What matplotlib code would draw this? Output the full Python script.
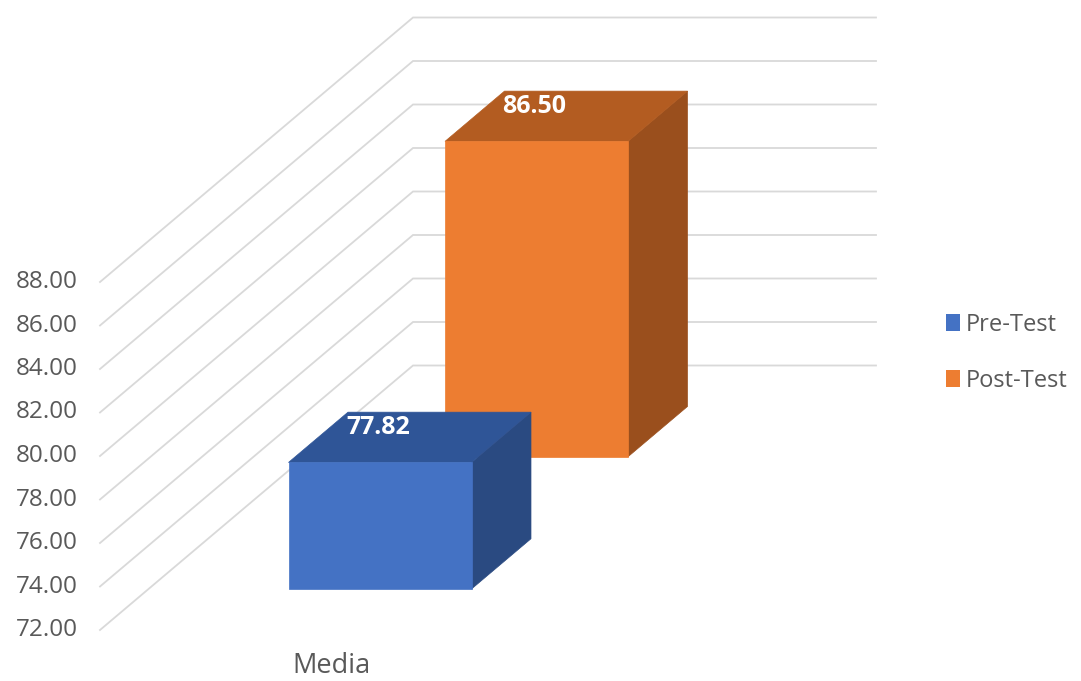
import numpy as np
from matplotlib import pyplot as plt
from matplotlib.patches import Polygon, Patch

plt.rcParams['font.family'] = ['Open Sans', 'DejaVu Sans']

# data
category = 'Media'
series = ['Pre-Test', 'Post-Test']
values = [77.82, 86.50]
y_ticks = np.arange(72, 89, 2)

front_colors = ['#4472C4', '#ED7D31']
top_colors = ['#2F5597', '#B35C21']
side_colors = ['#2A4A81', '#9A4F1D']

# layout of the fake 3d box (x in pixels, y in data units)
Y_MIN = 72
WALL_L, WALL_R = 100, 563
CAT_X = 331.5
HALF_W = 91.5
DEPTH_DX = 313.0
DEPTH_DY = 264.5 / 21.75
BAR_DEPTH = 0.19
GRID_COLOR = '#D9D9D9'
TEXT_COLOR = '#595959'


def proj(x, v, d):
    """ oblique projection: depth d (0 front .. 1 back) shifts up-right """
    return x + d * DEPTH_DX, v + d * DEPTH_DY


def draw_bar(ax, value, d_front, fc, tc, sc):
    d_back = d_front + BAR_DEPTH
    x0, x1 = CAT_X - HALF_W, CAT_X + HALF_W
    front = [proj(x0, Y_MIN, d_front), proj(x1, Y_MIN, d_front),
             proj(x1, value, d_front), proj(x0, value, d_front)]
    top = [proj(x0, value, d_front), proj(x1, value, d_front),
           proj(x1, value, d_back), proj(x0, value, d_back)]
    side = [proj(x1, Y_MIN, d_front), proj(x1, Y_MIN, d_back),
            proj(x1, value, d_back), proj(x1, value, d_front)]
    for pts, c in ((side, sc), (top, tc), (front, fc)):
        ax.add_patch(Polygon(pts, closed=True, facecolor=c, edgecolor=c,
                             linewidth=0.5, zorder=3))
    lx, ly = proj(CAT_X, value + 1.6, d_front)
    ax.text(lx - 2, ly, '{:.2f}'.format(value), color='white', fontsize=18,
            fontweight='bold', ha='center', va='center', zorder=5)


fig = plt.figure(figsize=(10.81, 6.81), dpi=100)
ax = fig.add_axes([0, 0, 1, 1])
ax.set_xlim(0, 1081)
ax.set_ylim(Y_MIN - 51 / 21.75, Y_MIN + 630 / 21.75)
ax.axis('off')

# gridlines on left wall and back wall
for v in y_ticks:
    pts = [proj(WALL_L, v, 0), proj(WALL_L, v, 1), proj(WALL_R, v, 1)]
    ax.plot([p[0] for p in pts], [p[1] for p in pts], color=GRID_COLOR,
            linewidth=1.3, zorder=1, solid_joinstyle='miter')
    ax.text(78, v, '{:.2f}'.format(v), ha='right', va='center',
            fontsize=17.5, color=TEXT_COLOR)

# bars, back to front
slot = 1.0 / len(values)
for i in reversed(range(len(values))):
    d_front = slot * (i + 0.5) - BAR_DEPTH / 2
    draw_bar(ax, values[i], d_front, front_colors[i], top_colors[i], side_colors[i])

ax.text(CAT_X, Y_MIN - 1.65, category, ha='center', va='center',
        fontsize=19.5, color=TEXT_COLOR)

handles = [Patch(facecolor=c, edgecolor='none') for c in front_colors]
fig.legend(handles, series, loc='center left', bbox_to_anchor=(0.855, 0.482),
           frameon=False, fontsize=17, labelcolor=TEXT_COLOR,
           handlelength=0.6, handleheight=0.7, handletextpad=0.25,
           labelspacing=1.35)

fig.savefig('out.png', dpi=100)
